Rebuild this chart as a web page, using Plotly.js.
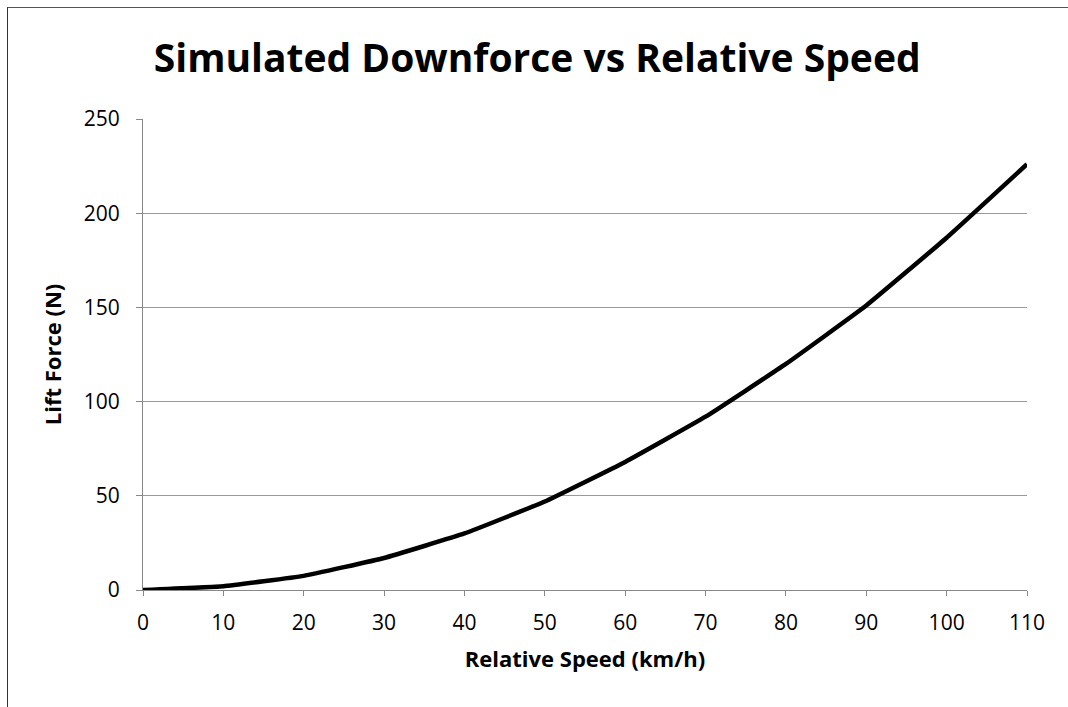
<!DOCTYPE html>
<html>
<head>
<meta charset="utf-8">
<script src="https://cdn.plot.ly/plotly-3.0.1.min.js"></script>
<style>
  html, body { margin: 0; padding: 0; background: #fff; overflow: hidden; }
  #wrap { position: relative; width: 1068px; height: 707px; overflow: hidden; }
  #chart { position: absolute; left: 0; top: 0; width: 1068px; height: 707px; }
  #frame { position: absolute; left: 7px; top: 7px; width: 1100px; height: 720px;
           border-left: 1px solid #333; border-top: 1px solid #555; pointer-events: none; }
</style>
</head>
<body>
<div id="wrap">
  <div id="chart"></div>
  <div id="frame"></div>
</div>
<script>
const speed = [0, 10, 20, 30, 40, 50, 60, 70, 80, 90, 100, 110];
const liftForce = [0, 2, 7.5, 17, 30, 47, 68, 92, 120, 151, 187, 226];

const chartTitle = 'Simulated Downforce vs Relative Speed';
const xTitle = 'Relative Speed (km/h)';
const yTitle = 'Lift Force (N)';

const FONT = '"Open Sans", Lato, sans-serif';

const trace = {
  x: speed,
  y: liftForce,
  type: 'scatter',
  mode: 'lines',
  line: { color: '#000', width: 4.5, shape: 'spline', smoothing: 0.3 },
  hoverinfo: 'x+y'
};

const layout = {
  width: 1068,
  height: 707,
  paper_bgcolor: '#fff',
  plot_bgcolor: '#fff',
  margin: { l: 143, r: 41, t: 119, b: 117 },
  showlegend: false,
  font: { family: FONT, color: '#000' },
  title: {
    text: '<b>' + chartTitle + '</b>',
    font: { family: FONT, size: 39, color: '#000' },
    x: 0.503, xanchor: 'center',
    y: 0.918, yanchor: 'middle'
  },
  xaxis: {
    range: [0, 110],
    tickmode: 'array',
    tickvals: speed,
    ticktext: speed.map(String),
    ticks: 'outside', ticklen: 5, tickcolor: '#888', tickwidth: 1,
    showline: true, linecolor: '#888', linewidth: 1,
    showgrid: false, zeroline: false,
    tickfont: { family: FONT, size: 21, color: '#000' },
    ticklabelstandoff: 9,
    title: { text: '<b>' + xTitle + '</b>', font: { family: FONT, size: 22, color: '#000' }, standoff: 16 }
  },
  yaxis: {
    range: [0, 250],
    tickmode: 'array',
    tickvals: [0, 50, 100, 150, 200, 250],
    ticktext: ['0', '50', '100', '150', '200', '250'],
    ticks: 'outside', ticklen: 6, tickcolor: '#888', tickwidth: 1,
    showline: true, linecolor: '#888', linewidth: 1,
    showgrid: true, gridcolor: '#999', gridwidth: 1,
    zeroline: false,
    tickfont: { family: FONT, size: 21, color: '#000' },
    ticklabelstandoff: 12,
    title: { text: '<b>' + yTitle + '</b>', font: { family: FONT, size: 22, color: '#000' }, standoff: 16 }
  }
};

Plotly.newPlot('chart', [trace], layout, { displayModeBar: false, staticPlot: true });
</script>
</body>
</html>
